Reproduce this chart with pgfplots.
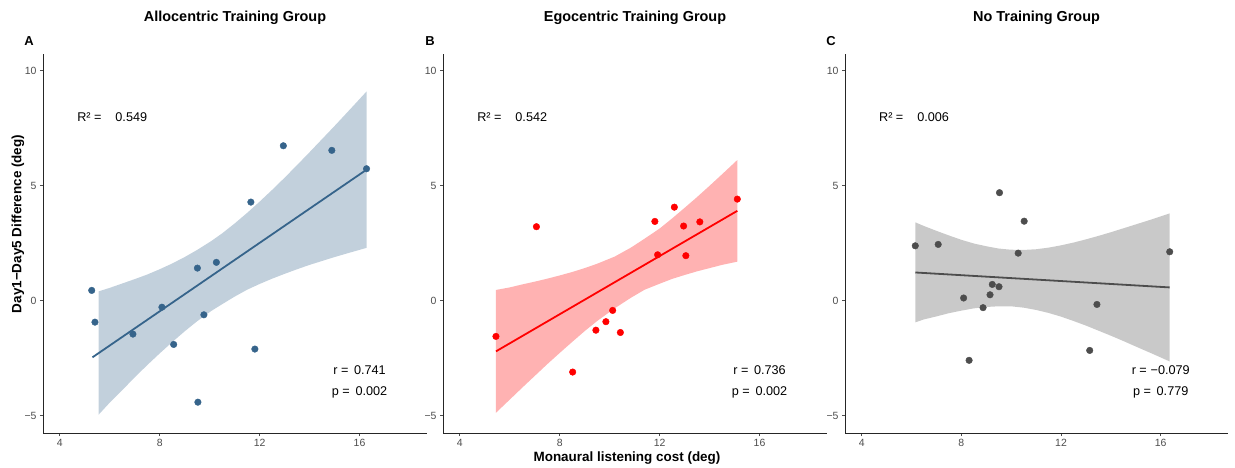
\documentclass[border=0pt]{standalone}
\usepackage{pgfplots}
\pgfplotsset{compat=1.18}
\usepackage{fontspec}
\setmainfont{Liberation Sans}

\definecolor{allo}{HTML}{36648B}
\definecolor{ego}{HTML}{FF0000}
\definecolor{notrain}{HTML}{4D4D4D}
\definecolor{ticklab}{HTML}{4D4D4D}

\pgfplotsset{
  panel/.style={
    scale only axis,
    width=384bp, height=379bp,
    xmin=3.33, xmax=18.7,
    ymin=-5.75, ymax=10.73,
    axis lines=left,
    axis line style={-, line width=1bp, black!85},
    xtick={4,8,12,16},
    ytick={-5,0,5,10},
    yticklabels={−5,0,5,10},
    tick style={ticklab, line width=0.6bp},
    major tick length=3bp,
    tick align=outside,
    tick label style={font=\fontsize{10.5}{10.5}\selectfont, text=ticklab},
    /pgf/number format/assume math mode=true,
    clip=false,
  },
}
\tikzset{ann/.style={font=\fontsize{12.7}{13}\selectfont, text=black}}

\begin{document}
\begin{tikzpicture}
\path[use as bounding box] (0,0) rectangle (1235bp,468bp);

% ---- A: Allocentric
\begin{axis}[panel, at={(43bp,35bp)}, anchor=south west]
  \addplot[fill=allo, fill opacity=0.3, draw=none] coordinates {
    (5.56,0.41) (6,0.56) (6.5,0.75) (7,0.94) (7.5,1.14) (8,1.37) (8.5,1.62) (9,1.90) (9.5,2.21) (10.07,2.60)
    (10.5,2.93) (11,3.36) (11.5,3.82) (12,4.31) (12.5,4.82) (13,5.35) (13.5,5.90) (14,6.46) (14.5,7.03) (15,7.60) (15.6,8.30) (16.28,9.10)
    (16.28,2.30) (15.6,2.09) (15,1.90) (14.5,1.73) (14,1.56) (13.5,1.37) (13,1.17) (12.5,0.96) (12,0.73) (11.5,0.48) (11,0.18)
    (10.5,-0.15) (10.07,-0.44) (9.5,-0.89) (9,-1.33) (8.5,-1.80) (8,-2.29) (7.5,-2.80) (7,-3.33) (6.5,-3.89) (6,-4.43) (5.56,-4.95)
  } --cycle;
  \addplot[allo, line width=1.8bp] coordinates {(5.31,-2.46) (16.28,5.70)};
  \addplot[only marks, mark=*, mark size=3.3bp, allo] coordinates {
    (5.28,0.45) (5.41,-0.93) (6.93,-1.45) (8.09,-0.28) (8.56,-1.90)
    (9.51,1.42) (9.53,-4.41) (9.77,-0.61) (10.27,1.67) (11.65,4.29)
    (11.81,-2.10) (12.95,6.74) (14.89,6.54) (16.28,5.74)
  };
  \node[ann] at (axis cs:6.1,8) {R² =\hspace{1.1em}0.549};
  \node[ann] at (axis cs:16,-3) {r =\hspace{0.45em}0.741};
  \node[ann] at (axis cs:16,-4) {p =\hspace{0.45em}0.002};
\end{axis}

% ---- B: Egocentric
\begin{axis}[panel, at={(443bp,35bp)}, anchor=south west]
  \addplot[fill=ego, fill opacity=0.3, draw=none] coordinates {
    (5.45,0.47) (6,0.58) (6.5,0.71) (7,0.83) (7.5,0.96) (8,1.10) (8.5,1.25) (9,1.42) (9.5,1.61) (10.2,1.92) (10.85,2.31)
    (11.4,2.70) (12,3.14) (12.5,3.58) (13,4.04) (13.5,4.51) (14,5.00) (14.5,5.50) (15.11,6.12)
    (15.11,1.70) (14.5,1.56) (14,1.42) (13.5,1.28) (13,1.12) (12.5,0.95) (12,0.74) (11.4,0.48) (10.85,0.13)
    (10.2,-0.33) (9.5,-0.88) (9,-1.32) (8.5,-1.79) (8,-2.27) (7.5,-2.76) (7,-3.27) (6.5,-3.78) (6,-4.30) (5.45,-4.87)
  } --cycle;
  \addplot[ego, line width=1.8bp] coordinates {(5.45,-2.20) (15.11,3.91)};
  \addplot[only marks, mark=*, mark size=3.3bp, ego] coordinates {
    (5.45,-1.55) (7.07,3.22) (8.52,-3.10) (9.45,-1.28) (9.85,-0.91)
    (10.12,-0.42) (10.43,-1.38) (11.81,3.45) (11.92,2.00) (12.59,4.07)
    (12.96,3.25) (13.05,1.96) (13.61,3.43) (15.11,4.42)
  };
  \node[ann] at (axis cs:6.1,8) {R² =\hspace{1.1em}0.542};
  \node[ann] at (axis cs:16,-3) {r =\hspace{0.45em}0.736};
  \node[ann] at (axis cs:16,-4) {p =\hspace{0.45em}0.002};
\end{axis}

% ---- C: No training
\begin{axis}[panel, width=383bp, at={(845bp,35bp)}, anchor=south west]
  \addplot[fill=notrain, fill opacity=0.3, draw=none] coordinates {
    (6.15,3.41) (6.5,3.25) (7,3.04) (7.5,2.84) (8,2.65) (8.5,2.49) (9,2.37) (9.5,2.27) (9.98,2.22) (10.5,2.21) (11,2.24)
    (11.5,2.31) (12,2.41) (12.5,2.53) (13,2.67) (13.5,2.82) (14,2.98) (14.5,3.15) (15,3.32) (15.7,3.56) (16.36,3.80)
    (16.36,-2.64) (15.7,-2.32) (15,-1.99) (14.5,-1.75) (14,-1.52) (13.5,-1.30) (13,-1.08) (12.5,-0.88) (12,-0.69) (11.5,-0.53) (11,-0.40)
    (10.5,-0.30) (9.98,-0.24) (9.5,-0.24) (9,-0.27) (8.5,-0.33) (8,-0.43) (7.5,-0.54) (7,-0.68) (6.5,-0.81) (6.15,-0.94)
  } --cycle;
  \addplot[notrain, line width=1.8bp] coordinates {(6.15,1.23) (16.36,0.58)};
  \addplot[only marks, mark=*, mark size=3.3bp, notrain] coordinates {
    (6.15,2.39) (7.07,2.45) (8.09,0.12) (8.31,-2.59) (8.87,-0.30)
    (9.15,0.26) (9.24,0.71) (9.51,0.61) (9.53,4.70) (10.28,2.07)
    (10.52,3.46) (13.15,-2.16) (13.44,-0.16) (16.36,2.13)
  };
  \node[ann] at (axis cs:6.1,8) {R² =\hspace{1.1em}0.006};
  \node[ann] at (axis cs:16,-3) {r =\hspace{0.3em}−0.079};
  \node[ann] at (axis cs:16,-4) {p =\hspace{0.45em}0.779};
\end{axis}

% titles and labels
\begin{scope}[every node/.style={font=\fontsize{14.5}{15}\selectfont\bfseries}]
  \node at (235bp,450bp) {Allocentric Training Group};
  \node at (635bp,450bp) {Egocentric Training Group};
  \node at (1036.5bp,450bp) {No Training Group};
\end{scope}
\begin{scope}[every node/.style={font=\fontsize{13}{13}\selectfont\bfseries}]
  \node at (29bp,427bp) {A};
  \node at (430bp,427bp) {B};
  \node at (831bp,427bp) {C};
\end{scope}
\node[font=\fontsize{13.5}{14}\selectfont\bfseries, rotate=90] at (18bp,244bp) {Day1−Day5 Difference (deg)};
\node[font=\fontsize{13.5}{14}\selectfont\bfseries] at (627bp,10bp) {Monaural listening cost (deg)};
\end{tikzpicture}
\end{document}
